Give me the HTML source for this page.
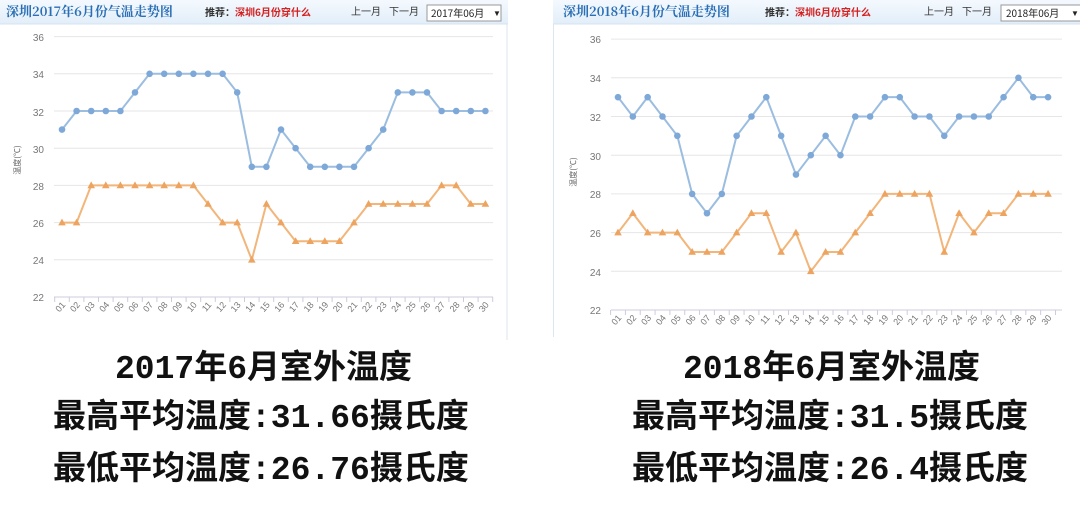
<!DOCTYPE html>
<html><head><meta charset="utf-8"><style>
body{margin:0;width:1080px;height:506px;background:#fff;overflow:hidden;position:relative;font-family:"Liberation Sans","Noto Sans CJK SC",sans-serif}
svg{position:absolute;left:0;top:0}
.cap{position:absolute;font-family:"Liberation Mono","Noto Sans CJK SC",monospace;font-weight:bold;font-size:33px;color:#111;white-space:nowrap;line-height:1}
</style></head><body>
<svg id="s" width="1080" height="506" xmlns="http://www.w3.org/2000/svg" font-family="Liberation Sans, Noto Sans CJK SC, sans-serif">
<defs><linearGradient id="hg" x1="0" y1="0" x2="0" y2="1"><stop offset="0" stop-color="#f4f9fe"/><stop offset="1" stop-color="#e2eef9"/></linearGradient></defs>
<rect x="0" y="0" width="508" height="340" fill="#fff"/>
<rect x="0" y="0" width="508" height="24" fill="url(#hg)"/>
<line x1="0" y1="24" x2="508" y2="24" stroke="#d4e4f2"/>
<line x1="507" y1="24" x2="507" y2="340" stroke="#dde6ee"/>
<text x="6" y="16" font-size="13" font-weight="bold" fill="#2a6fb5" font-family="Noto Serif CJK SC, serif">深圳2017年6月份气温走势图</text>
<text x="205" y="16" font-size="10" font-weight="bold" fill="#333" font-family="Noto Sans CJK SC, sans-serif">推荐：<tspan fill="#d42020">深圳6月份穿什么</tspan></text>
<text x="351" y="15" font-size="10" fill="#333" font-family="Noto Sans CJK SC, sans-serif">上一月</text>
<text x="389" y="15" font-size="10" fill="#333" font-family="Noto Sans CJK SC, sans-serif">下一月</text>
<rect x="427" y="5" width="74" height="16" fill="#fff" stroke="#999"/>
<text x="431" y="17" font-size="10" fill="#222" font-family="Noto Sans CJK SC, sans-serif">2017年06月</text>
<text x="493" y="16" font-size="8" fill="#222">▼</text>
<rect x="553" y="0" width="527" height="24" fill="url(#hg)"/>
<line x1="553" y1="24" x2="1080" y2="24" stroke="#d4e4f2"/>
<line x1="553.5" y1="24" x2="553.5" y2="337" stroke="#dde6ee"/>
<text x="563" y="16" font-size="13" font-weight="bold" fill="#2a6fb5" font-family="Noto Serif CJK SC, serif">深圳2018年6月份气温走势图</text>
<text x="765" y="16" font-size="10" font-weight="bold" fill="#333" font-family="Noto Sans CJK SC, sans-serif">推荐：<tspan fill="#d42020">深圳6月份穿什么</tspan></text>
<text x="924" y="15" font-size="10" fill="#333" font-family="Noto Sans CJK SC, sans-serif">上一月</text>
<text x="962" y="15" font-size="10" fill="#333" font-family="Noto Sans CJK SC, sans-serif">下一月</text>
<rect x="1001" y="5" width="80" height="16" fill="#fff" stroke="#999"/>
<text x="1006" y="17" font-size="10" fill="#222" font-family="Noto Sans CJK SC, sans-serif">2018年06月</text>
<text x="1071" y="16" font-size="8" fill="#222">▼</text>
<g id="grid"></g>
<g font-size="10" fill="#777" text-anchor="end">
<text x="44" y="41">36</text><text x="44" y="78">34</text><text x="44" y="116">32</text><text x="44" y="153">30</text><text x="44" y="190">28</text><text x="44" y="227">26</text><text x="44" y="264">24</text><text x="44" y="301">22</text>
<text x="601" y="43">36</text><text x="601" y="82">34</text><text x="601" y="121">32</text><text x="601" y="160">30</text><text x="601" y="198">28</text><text x="601" y="237">26</text><text x="601" y="276">24</text><text x="601" y="314">22</text>
</g>
<text transform="translate(20,160) rotate(-90)" font-size="8" fill="#666" text-anchor="middle" font-family="Noto Sans CJK SC, sans-serif">温度(℃)</text>
<text transform="translate(576,172) rotate(-90)" font-size="8" fill="#666" text-anchor="middle" font-family="Noto Sans CJK SC, sans-serif">温度(℃)</text>
<g font-size="9" fill="#777" text-anchor="end">
<text transform="translate(66,305) rotate(-50)">01</text><text transform="translate(80.6,305) rotate(-50)">02</text><text transform="translate(95.2,305) rotate(-50)">03</text><text transform="translate(109.8,305) rotate(-50)">04</text><text transform="translate(124.4,305) rotate(-50)">05</text><text transform="translate(139,305) rotate(-50)">06</text><text transform="translate(153.6,305) rotate(-50)">07</text><text transform="translate(168.2,305) rotate(-50)">08</text><text transform="translate(182.8,305) rotate(-50)">09</text><text transform="translate(197.4,305) rotate(-50)">10</text><text transform="translate(212,305) rotate(-50)">11</text><text transform="translate(226.6,305) rotate(-50)">12</text><text transform="translate(241.2,305) rotate(-50)">13</text><text transform="translate(255.8,305) rotate(-50)">14</text><text transform="translate(270.4,305) rotate(-50)">15</text><text transform="translate(285,305) rotate(-50)">16</text><text transform="translate(299.6,305) rotate(-50)">17</text><text transform="translate(314.2,305) rotate(-50)">18</text><text transform="translate(328.8,305) rotate(-50)">19</text><text transform="translate(343.4,305) rotate(-50)">20</text><text transform="translate(358,305) rotate(-50)">21</text><text transform="translate(372.6,305) rotate(-50)">22</text><text transform="translate(387.2,305) rotate(-50)">23</text><text transform="translate(401.8,305) rotate(-50)">24</text><text transform="translate(416.4,305) rotate(-50)">25</text><text transform="translate(431,305) rotate(-50)">26</text><text transform="translate(445.6,305) rotate(-50)">27</text><text transform="translate(460.2,305) rotate(-50)">28</text><text transform="translate(474.8,305) rotate(-50)">29</text><text transform="translate(489.4,305) rotate(-50)">30</text>
<text transform="translate(622,318) rotate(-50)">01</text><text transform="translate(636.8,318) rotate(-50)">02</text><text transform="translate(651.7,318) rotate(-50)">03</text><text transform="translate(666.5,318) rotate(-50)">04</text><text transform="translate(681.3,318) rotate(-50)">05</text><text transform="translate(696.2,318) rotate(-50)">06</text><text transform="translate(711,318) rotate(-50)">07</text><text transform="translate(725.8,318) rotate(-50)">08</text><text transform="translate(740.6,318) rotate(-50)">09</text><text transform="translate(755.5,318) rotate(-50)">10</text><text transform="translate(770.3,318) rotate(-50)">11</text><text transform="translate(785.1,318) rotate(-50)">12</text><text transform="translate(800,318) rotate(-50)">13</text><text transform="translate(814.8,318) rotate(-50)">14</text><text transform="translate(829.6,318) rotate(-50)">15</text><text transform="translate(844.5,318) rotate(-50)">16</text><text transform="translate(859.3,318) rotate(-50)">17</text><text transform="translate(874.1,318) rotate(-50)">18</text><text transform="translate(888.9,318) rotate(-50)">19</text><text transform="translate(903.8,318) rotate(-50)">20</text><text transform="translate(918.6,318) rotate(-50)">21</text><text transform="translate(933.4,318) rotate(-50)">22</text><text transform="translate(948.3,318) rotate(-50)">23</text><text transform="translate(963.1,318) rotate(-50)">24</text><text transform="translate(977.9,318) rotate(-50)">25</text><text transform="translate(992.8,318) rotate(-50)">26</text><text transform="translate(1007.6,318) rotate(-50)">27</text><text transform="translate(1022.4,318) rotate(-50)">28</text><text transform="translate(1037.2,318) rotate(-50)">29</text><text transform="translate(1052.1,318) rotate(-50)">30</text>
</g>
<g id="data"></g>
</svg>
<div class="cap" style="left:115px;top:353px">2017年6月室外温度</div>
<div class="cap" style="left:53px;top:402px">最高平均温度:31.66摄氏度</div>
<div class="cap" style="left:53px;top:454px">最低平均温度:26.76摄氏度</div>
<div class="cap" style="left:683px;top:353px">2018年6月室外温度</div>
<div class="cap" style="left:632px;top:402px">最高平均温度:31.5摄氏度</div>
<div class="cap" style="left:632px;top:454px">最低平均温度:26.4摄氏度</div>
<script>
var NS="http://www.w3.org/2000/svg";
function el(p,t,a){var e=document.createElementNS(NS,t);for(var k in a)e.setAttribute(k,a[k]);p.appendChild(e);return e;}
var grid=document.getElementById('grid'),data=document.getElementById('data');
var charts=[
 {x0:62,dx:14.6,y0:297,k:18.6,gl:54,gr:493,
  hi:[31,32,32,32,32,33,34,34,34,34,34,34,33,29,29,31,30,29,29,29,29,30,31,33,33,33,32,32,32,32],
  lo:[26,26,28,28,28,28,28,28,28,28,27,26,26,24,27,26,25,25,25,25,26,27,27,27,27,27,28,28,27,27]},
 {x0:618,dx:14.83,y0:310,k:19.35,gl:611,gr:1062,
  hi:[33,32,33,32,31,28,27,28,31,32,33,31,29,30,31,30,32,32,33,33,32,32,31,32,32,32,33,34,33,33],
  lo:[26,27,26,26,26,25,25,25,26,27,27,25,26,24,25,25,26,27,28,28,28,28,25,27,26,27,27,28,28,28]}];
charts.forEach(function(c){
 for(var v=22;v<=36;v+=2){var y=c.y0-(v-22)*c.k;el(grid,'line',{x1:c.gl,x2:c.gr,y1:y,y2:y,stroke:v==22?'#ccd':'#e6e6e6','stroke-width':1});}
 for(var i=0;i<=30;i++){var x=c.x0-c.dx/2+i*c.dx;el(grid,'line',{x1:x,x2:x,y1:c.y0,y2:c.y0+5,stroke:'#ccd'});}
 [['hi','#9bbde0','#7ea8d8'],['lo','#f2b57a','#eca460']].forEach(function(s){
  var pts=c[s[0]].map(function(v,i){return [c.x0+i*c.dx,c.y0-(v-22)*c.k];});
  el(data,'polyline',{points:pts.map(function(p){return p.join(',')}).join(' '),fill:'none',stroke:s[1],'stroke-width':2});
  pts.forEach(function(p){
   if(s[0]=='hi')el(data,'circle',{cx:p[0],cy:p[1],r:3.3,fill:s[2]});
   else el(data,'polygon',{points:(p[0])+','+(p[1]-4)+' '+(p[0]-3.8)+','+(p[1]+2.8)+' '+(p[0]+3.8)+','+(p[1]+2.8),fill:s[2]});
  });
 });
});
</script>
</body></html>
